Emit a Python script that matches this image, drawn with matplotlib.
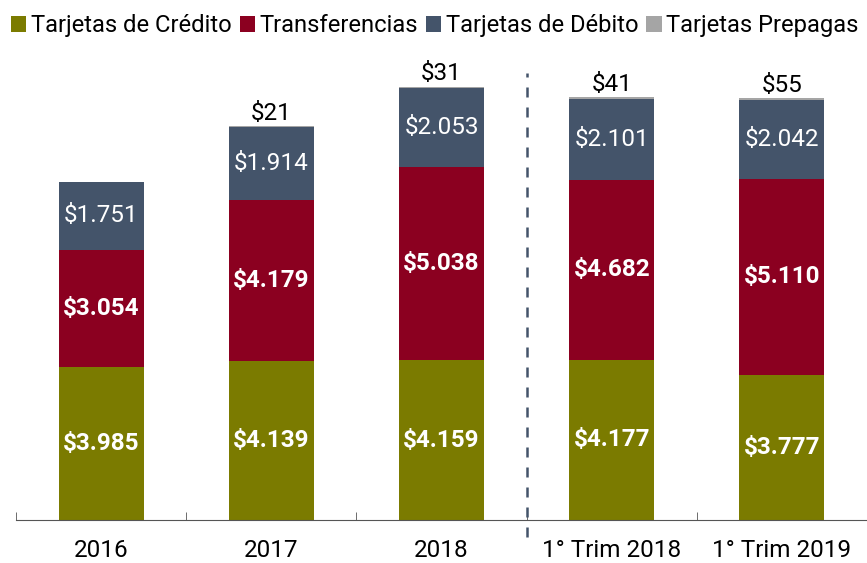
import matplotlib.pyplot as plt
import numpy as np

plt.rcParams['font.family'] = ['Roboto', 'DejaVu Sans']

categories = ['2016', '2017', '2018', '1° Trim 2018', '1° Trim 2019']
credito = [3985, 4139, 4159, 4177, 3777]
transferencias = [3054, 4179, 5038, 4682, 5110]
debito = [1751, 1914, 2053, 2101, 2042]
prepagas = [0, 21, 31, 41, 55]

names = ['Tarjetas de Crédito', 'Transferencias', 'Tarjetas de Débito', 'Tarjetas Prepagas']
colors = ['#7b7b00', '#8b0020', '#44546a', '#a5a5a5']


def fmt(v):
    return '$' + f'{v:,}'.replace(',', '.')


fs = 17.5
fig = plt.figure(figsize=(8.67, 5.63), dpi=100)
ax = fig.add_axes([0.0185, 0.0764, 0.9815, 0.853])

x = np.arange(len(categories))
series = [credito, transferencias, debito, prepagas]
bottom = np.zeros(len(categories))
for vals, name, col in zip(series, names, colors):
    ax.bar(x, vals, width=0.5, bottom=bottom, color=col, label=name)
    bottom += np.array(vals)

# labels inside bars
for i in range(len(categories)):
    b = 0
    for k, vals in enumerate(series[:3]):
        v = vals[i]
        weight = 'bold' if k < 2 else 'normal'
        ax.text(x[i], b + v / 2, fmt(v), ha='center', va='center',
                color='white', fontsize=fs, fontweight=weight)
        b += v
    if prepagas[i] > 0:
        ax.text(x[i], bottom[i] + 30, fmt(prepagas[i]), ha='center', va='bottom',
                color='black', fontsize=fs)

ax.set_xlim(-0.5, len(categories) - 0.5)
ax.set_ylim(0, 12500)
ax.set_yticks([])
ax.set_xticks(x)
ax.set_xticklabels(categories, fontsize=fs)
ax.tick_params(axis='x', length=0, pad=14)
ax.set_xticks(np.arange(-0.5, len(categories)), minor=True)
ax.tick_params(axis='x', which='minor', length=6, color='#555555', direction='in')
for s in ['top', 'right', 'left']:
    ax.spines[s].set_visible(False)
ax.spines['bottom'].set_color('#555555')

# divider between years and quarters
ax.axvline(2.5, ymin=-0.035, ymax=0.93, color='#44546a', linestyle=(0, (4, 4)),
           linewidth=1.8, clip_on=False)

fig.legend(loc='upper left', bbox_to_anchor=(11 / 867, 1 - 14 / 563), ncol=4,
           frameon=False, fontsize=17.1, handlelength=0.65, handleheight=0.65,
           handletextpad=0.18, columnspacing=0.34, borderpad=0, borderaxespad=0)

fig.savefig('out.png', dpi=100)
